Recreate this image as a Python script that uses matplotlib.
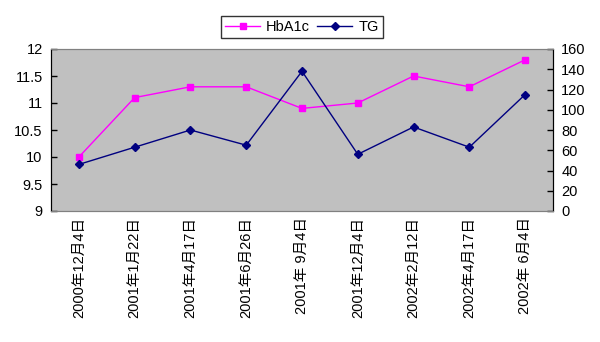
import matplotlib
matplotlib.use('Agg')
import matplotlib.pyplot as plt
from matplotlib.lines import Line2D

plt.rcParams['font.family'] = ['Liberation Sans', 'Noto Sans CJK JP', 'DejaVu Sans']

dates = ['2000年12月4日', '2001年1月22日', '2001年4月17日', '2001年6月26日',
         '2001年 9月4日', '2001年12月4日', '2002年2月12日', '2002年4月17日',
         '2002年 6月4日']
hba1c = [10.0, 11.1, 11.3, 11.3, 10.9, 11.0, 11.5, 11.3, 11.8]
tg = [46, 63, 80, 65, 138, 56, 83, 63, 115]

left_ticks = [9, 9.5, 10, 10.5, 11, 11.5, 12]
left_labels = ['9', '9.5', '10', '10.5', '11', '11.5', '12']
right_ticks = [0, 20, 40, 60, 80, 100, 120, 140, 160]

fig = plt.figure(figsize=(6, 3.42), dpi=100)
ax = fig.add_axes([51/600, 1-211/342, (553-51)/600, (211-49)/342])
ax.set_facecolor('#c0c0c0')
x = list(range(len(dates)))

ax.plot(x, hba1c, color='#ff00ff', lw=1, marker='s', ms=5, zorder=3)
ax.set_ylim(9, 12)
ax.set_xlim(-0.5, len(dates)-0.5)
ax.set_yticks(left_ticks)
ax.set_yticklabels(left_labels)
ax.set_xticks(x)
ax.set_xticklabels(dates, rotation=90, fontsize=10.5)
ax.tick_params(axis='x', length=0, pad=4)
ax.tick_params(axis='y', direction='in', length=4, width=1, labelsize=10.5, pad=6)

ax2 = ax.twinx()
ax2.plot(x, tg, color='#000080', lw=1, marker='D', ms=4.5, zorder=3)
ax2.set_ylim(0, 160)
ax2.set_yticks(right_ticks)
ax2.tick_params(axis='y', direction='in', length=4, width=1, labelsize=10.5, pad=6)

for a in (ax, ax2):
    a.spines['top'].set_color('#808080')
    a.spines['bottom'].set_color('#808080')
    a.spines['left'].set_color('black')
    a.spines['right'].set_color('black')

handles = [Line2D([], [], color='#ff00ff', lw=1, marker='s', ms=5),
           Line2D([], [], color='#000080', lw=1, marker='D', ms=4.5)]
leg = fig.legend(handles, ['HbA1c', 'TG'], loc='center', bbox_to_anchor=(302/600, 1-27/342),
                 ncol=2, fontsize=10.5, frameon=True, fancybox=False, edgecolor='black',
                 handlelength=2.4, columnspacing=0.5, handletextpad=0.4, borderpad=0.3)
leg.get_frame().set_linewidth(1)

fig.savefig('out.png', dpi=100)
